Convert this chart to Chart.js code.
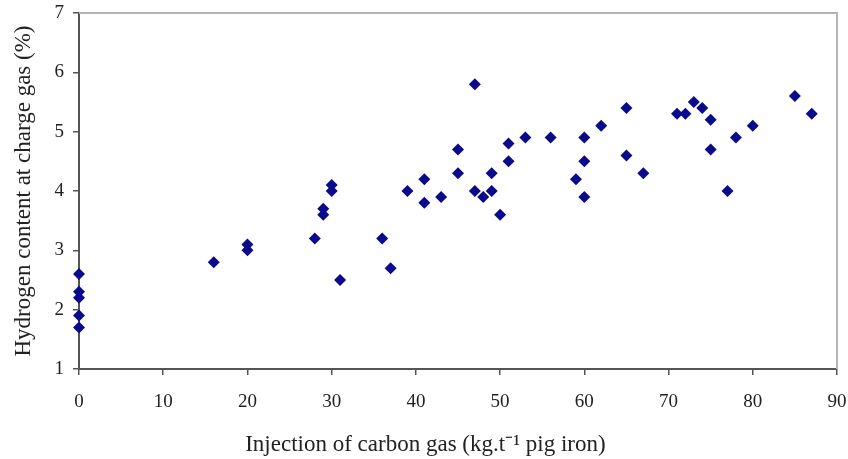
<!DOCTYPE html>
<html>
<head>
<meta charset="utf-8">
<script src="https://cdn.jsdelivr.net/npm/chart.js@4"></script>
<style>
html,body{margin:0;padding:0;background:#fff;}
#wrap{width:848px;height:459px;position:relative;}
</style>
</head>
<body>
<div id="wrap"><canvas id="c" width="848" height="459"></canvas></div>
<script>
const xValues = [0,0,0,0,0,16,20,20,28,29,29,30,30,31,36,37,39,41,41,43,45,45,47,47,48,49,49,50,51,51,53,56,59,60,60,60,62,65,65,67,71,72,73,74,75,75,77,78,80,85,87];
const yValues = [2.6,2.3,2.2,1.9,1.7,2.8,3.1,3.0,3.2,3.7,3.6,4.1,4.0,2.5,3.2,2.7,4.0,4.2,3.8,3.9,4.7,4.3,5.8,4.0,3.9,4.3,4.0,3.6,4.8,4.5,4.9,4.9,4.2,4.9,4.5,3.9,5.1,5.4,4.6,4.3,5.3,5.3,5.5,5.4,5.2,4.7,4.0,4.9,5.1,5.6,5.3];
const xTitle = 'Injection of carbon gas (kg.t\u207B\u00B9 pig iron)';
const yTitle = 'Hydrogen content at charge gas (%)';

const points = xValues.map((x, i) => ({x: x, y: yValues[i]}));
const font = 'Liberation Serif';

const frame = {
  id: 'frame',
  afterDraw(chart) {
    const a = chart.chartArea, ctx = chart.ctx;
    ctx.save();
    ctx.strokeStyle = '#b4b4b4';
    ctx.lineWidth = 2;
    ctx.beginPath();
    ctx.moveTo(a.left, a.top);
    ctx.lineTo(a.right, a.top);
    ctx.lineTo(a.right, a.bottom);
    ctx.stroke();
    // x-axis title (offset left of the plot centre, as in the source)
    ctx.fillStyle = '#222';
    ctx.font = '23px "' + font + '"';
    ctx.textAlign = 'center';
    ctx.textBaseline = 'middle';
    ctx.fillText(xTitle, a.left + (a.right - a.left) * 0.457, a.bottom + 76);
    ctx.restore();
  }
};

new Chart(document.getElementById('c'), {
  type: 'scatter',
  data: {
    datasets: [{
      data: points,
      pointStyle: 'rectRot',
      pointRadius: 6,
      pointHoverRadius: 6,
      backgroundColor: '#0a0a8c',
      borderColor: '#0a0a8c',
      borderWidth: 0,
      clip: false
    }]
  },
  options: {
    responsive: false,
    animation: false,
    events: [],
    layout: {padding: {top: 13, right: 11, left: 0, bottom: 0}},
    plugins: {legend: {display: false}, tooltip: {enabled: false}},
    scales: {
      x: {
        type: 'linear',
        min: 0, max: 90,
        afterFit(s) { s.height = 90; s.paddingLeft = 0; s.paddingRight = 0; },
        border: {display: true, color: '#555', width: 2},
        grid: {display: true, drawOnChartArea: false, drawTicks: true, tickLength: 6, color: '#555', lineWidth: 1.5},
        ticks: {stepSize: 10, color: '#222', padding: 16, font: {family: font, size: 19}, maxRotation: 0},
        title: {display: false}
      },
      y: {
        type: 'linear',
        min: 1, max: 7,
        afterFit(s) { s.width = 79; s.paddingTop = 0; s.paddingBottom = 0; },
        border: {display: true, color: '#555', width: 2},
        grid: {display: true, drawOnChartArea: false, drawTicks: true, tickLength: 6, color: '#555', lineWidth: 1.5},
        ticks: {stepSize: 1, color: '#222', padding: 9, font: {family: font, size: 19}},
        title: {display: true, text: yTitle, color: '#222', font: {family: font, size: 23}, padding: {top: 10, bottom: 0}}
      }
    }
  },
  plugins: [frame]
});
</script>
</body>
</html>
